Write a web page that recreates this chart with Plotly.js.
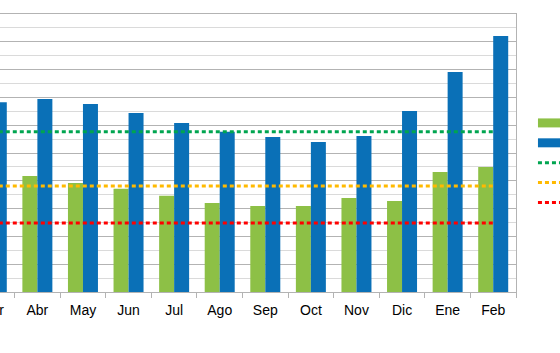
<!DOCTYPE html>
<html>
<head>
<meta charset="utf-8">
<script src="https://cdn.plot.ly/plotly-3.0.1.min.js"></script>
<style>
html, body { margin:0; padding:0; width:560px; height:353px; overflow:hidden; background:#fff; }
#wrap { position:relative; width:560px; height:353px; overflow:hidden; }
#chart { position:absolute; left:-100px; top:0; width:800px; height:353px; }
</style>
</head>
<body>
<div id="wrap"><div id="chart"></div></div>
<script>
const meses = ['Mar','Abr','May','Jun','Jul','Ago','Sep','Oct','Nov','Dic','Ene','Feb'];
const serieVerde = [40.0, 41.7, 39.2, 37.1, 34.6, 32.0, 30.9, 30.9, 33.8, 32.7, 43.2, 45.0];
const serieAzul  = [68.3, 69.4, 67.6, 64.4, 60.8, 57.6, 55.8, 54.0, 56.1, 65.1, 79.1, 92.1];
const lineaVerde   = [57.6, 57.6, 57.6, 57.6, 57.6, 57.6, 57.6, 57.6, 57.6, 57.6, 57.6, 57.6];
const lineaNaranja = [38.1, 38.1, 38.1, 38.1, 38.1, 38.1, 38.1, 38.1, 38.1, 38.1, 38.1, 38.1];
const lineaRoja    = [24.8, 24.8, 24.8, 24.8, 24.8, 24.8, 24.8, 24.8, 24.8, 24.8, 24.8, 24.8];
const nombres = ['Año anterior', 'Año actual', 'Máximo', 'Media', 'Mínimo'];

const cVerde = '#8DC046', cAzul = '#0A70B7';
const cLV = '#00A550', cLN = '#FFBA00', cLR = '#FF0000';
const dash = '4px,3px';

const data = [
  {type:'bar', x:meses, y:serieVerde, name:nombres[0], marker:{color:cVerde}, showlegend:false, legendgroup:'a'},
  {type:'bar', x:meses, y:serieAzul, name:nombres[1], marker:{color:cAzul}, showlegend:false, legendgroup:'b'},
  {type:'scatter', mode:'lines', x:[null], y:[null], name:nombres[0], line:{color:cVerde, width:9}, legendgroup:'a', hoverinfo:'skip'},
  {type:'scatter', mode:'lines', x:[null], y:[null], name:nombres[1], line:{color:cAzul, width:9}, legendgroup:'b', hoverinfo:'skip'},
  {type:'scatter', mode:'lines', x:meses, y:lineaVerde, name:nombres[2], line:{color:cLV, width:3, dash:dash}},
  {type:'scatter', mode:'lines', x:meses, y:lineaNaranja, name:nombres[3], line:{color:cLN, width:3, dash:dash}},
  {type:'scatter', mode:'lines', x:meses, y:lineaRoja, name:nombres[4], line:{color:cLR, width:3, dash:dash}}
];

const layout = {
  width:800, height:353,
  margin:{l:68.8, r:184, t:14, b:61},
  paper_bgcolor:'#fff', plot_bgcolor:'#fff',
  font:{family:'"Liberation Sans", Arial, sans-serif', size:13, color:'#000'},
  bargap:0.342, bargroupgap:0,
  barmode:'group',
  showlegend:true,
  legend:{x:1.031, xanchor:'left', y:0.662, yanchor:'top', font:{size:13}, bgcolor:'rgba(0,0,0,0)', traceorder:'normal'},
  xaxis:{
    type:'category', showline:true, linecolor:'#B3B3B3', linewidth:1, mirror:true,
    ticks:'outside', tickson:'boundaries', ticklen:5, tickcolor:'#B3B3B3',
    ticklabelstandoff:5,
    showgrid:false, zeroline:false, tickfont:{size:14, color:'#000'}
  },
  yaxis:{
    range:[0,100], dtick:10, showline:true, linecolor:'#B3B3B3', linewidth:1, mirror:true,
    showgrid:true, gridcolor:'#B3B3B3', gridwidth:1, zeroline:false,
    showticklabels:false,
    minor:{dtick:5, showgrid:true, gridcolor:'#DADADA', gridwidth:1}
  }
};

Plotly.newPlot('chart', data, layout, {displayModeBar:false, staticPlot:true});
</script>
</body>
</html>
